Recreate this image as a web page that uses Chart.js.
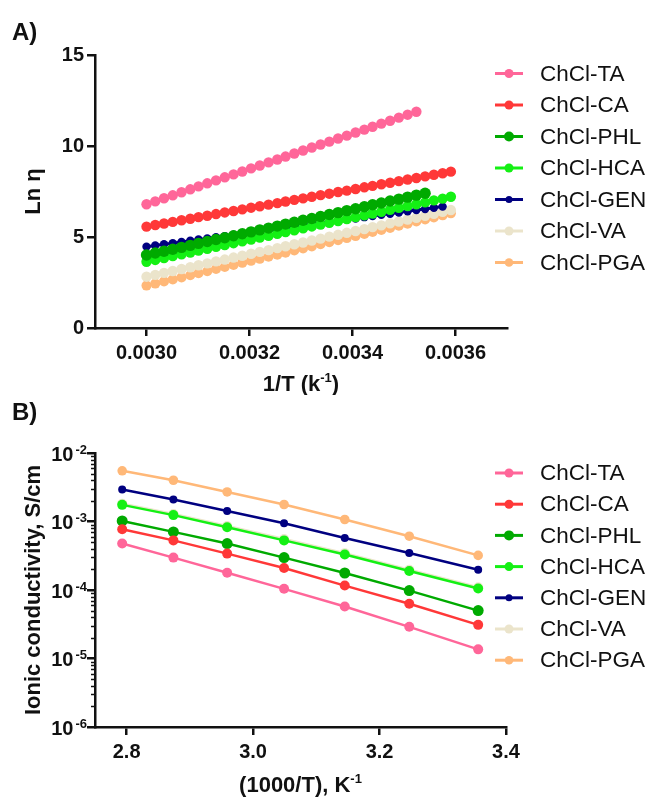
<!DOCTYPE html>
<html>
<head>
<meta charset="utf-8">
<script src="https://cdn.jsdelivr.net/npm/chart.js@4.4.1/dist/chart.umd.min.js"></script>
<style>
  body { margin: 0; background: #fff; width: 646px; height: 798px; overflow: hidden; position: relative; }
  canvas { position: absolute; left: 0; }
</style>
</head>
<body>
<canvas id="chartA" width="646" height="395" style="top:0"></canvas>
<canvas id="chartB" width="646" height="403" style="top:395px"></canvas>
<script>
// series names and colours (same for both panels)
const labels = ['ChCl-TA', 'ChCl-CA', 'ChCl-PHL', 'ChCl-HCA', 'ChCl-GEN', 'ChCl-VA', 'ChCl-PGA'];
const colors = ['#ff6699', '#ff3838', '#00aa00', '#14f014', '#000080', '#ebe4cb', '#ffb878'];
const radii = [4.5, 4.5, 5, 4.5, 3.5, 4.5, 4.3];

// Panel A: Ln(viscosity) vs 1/T
const invT = [0.003000, 0.003017, 0.003034, 0.003051, 0.003068, 0.003085, 0.003101, 0.003118, 0.003135,
  0.003152, 0.003169, 0.003186, 0.003203, 0.003220, 0.003237, 0.003254, 0.003270, 0.003287, 0.003304,
  0.003321, 0.003338, 0.003355, 0.003372, 0.003389, 0.003406, 0.003423, 0.003439, 0.003456, 0.003473,
  0.003490, 0.003507, 0.003524, 0.003541, 0.003558, 0.003575, 0.003591];
const lnTA = [6.80, 6.96, 7.13, 7.29, 7.46, 7.62, 7.78, 7.95, 8.11, 8.28, 8.44, 8.60, 8.77, 8.93, 9.10, 9.26,
  9.42, 9.59, 9.75, 9.92, 10.08, 10.24, 10.41, 10.57, 10.74, 10.90, 11.06, 11.23, 11.39, 11.56, 11.72, 11.88];
const lnCA = [5.57, 5.66, 5.74, 5.83, 5.92, 6.00, 6.09, 6.17, 6.26, 6.35, 6.43, 6.52, 6.61, 6.69, 6.78, 6.86,
  6.95, 7.04, 7.12, 7.21, 7.30, 7.38, 7.47, 7.55, 7.64, 7.73, 7.81, 7.90, 7.98, 8.07, 8.16, 8.24, 8.33, 8.42, 8.50, 8.59];
const lnPHL = [4.01, 4.12, 4.22, 4.33, 4.43, 4.54, 4.65, 4.75, 4.86, 4.96, 5.07, 5.18, 5.28, 5.39, 5.49, 5.60,
  5.71, 5.81, 5.92, 6.02, 6.13, 6.24, 6.34, 6.45, 6.55, 6.66, 6.77, 6.87, 6.98, 7.08, 7.19, 7.30, 7.40];
const lnHCA = [3.64, 3.74, 3.84, 3.95, 4.05, 4.15, 4.25, 4.35, 4.46, 4.56, 4.66, 4.76, 4.86, 4.97, 5.07, 5.17,
  5.27, 5.37, 5.48, 5.58, 5.68, 5.78, 5.88, 5.99, 6.09, 6.19, 6.29, 6.39, 6.50, 6.60, 6.70, 6.80, 6.90, 7.01, 7.11, 7.21];
const lnGEN = [4.47, 4.53, 4.60, 4.66, 4.73, 4.79, 4.86, 4.92, 4.99, 5.05, 5.12, 5.18, 5.25, 5.31, 5.38, 5.44,
  5.51, 5.57, 5.63, 5.70, 5.76, 5.83, 5.89, 5.96, 6.02, 6.09, 6.15, 6.22, 6.28, 6.35, 6.41, 6.48, 6.54, 6.61, 6.67];
const lnVA = [2.82, 2.92, 3.03, 3.13, 3.24, 3.34, 3.45, 3.55, 3.66, 3.76, 3.87, 3.97, 4.08, 4.18, 4.28, 4.39,
  4.49, 4.60, 4.70, 4.81, 4.91, 5.02, 5.12, 5.23, 5.33, 5.43, 5.54, 5.64, 5.75, 5.85, 5.96, 6.06, 6.17, 6.27, 6.38, 6.48];
const lnPGA = [2.33, 2.44, 2.56, 2.67, 2.78, 2.90, 3.01, 3.12, 3.24, 3.35, 3.46, 3.58, 3.69, 3.80, 3.92, 4.03,
  4.14, 4.26, 4.37, 4.48, 4.60, 4.71, 4.82, 4.94, 5.05, 5.16, 5.27, 5.39, 5.50, 5.62, 5.73, 5.85, 5.96, 6.07, 6.19, 6.30];
const xTicksA = [0.0030, 0.0032, 0.0034, 0.0036];
const yTicksA = [0, 5, 10, 15];

// Panel B: ionic conductivity (S/cm) vs 1000/T
const kT = [2.793, 2.874, 2.959, 3.049, 3.145, 3.247, 3.356];
const sTA = [4.77e-4, 2.97e-4, 1.79e-4, 1.04e-4, 5.75e-5, 2.9e-5, 1.36e-5];
const sCA = [7.7e-4, 5.3e-4, 3.4e-4, 2.1e-4, 1.16e-4, 6.3e-5, 3.1e-5];
const sPHL = [1.02e-3, 7.05e-4, 4.77e-4, 2.97e-4, 1.77e-4, 9.8e-5, 5.0e-5];
const sHCA = [1.75e-3, 1.24e-3, 8.25e-4, 5.3e-4, 3.29e-4, 1.89e-4, 1.05e-4];
const sGEN = [2.94e-3, 2.1e-3, 1.42e-3, 9.4e-4, 5.75e-4, 3.47e-4, 1.98e-4];
const sVA = [1.82e-3, 1.29e-3, 8.6e-4, 5.55e-4, 3.45e-4, 1.98e-4, 1.1e-4];
const sPGA = [5.5e-3, 4.0e-3, 2.7e-3, 1.77e-3, 1.07e-3, 6.1e-4, 3.2e-4];
const xTicksB = [2.8, 3.0, 3.2, 3.4];
const yTicksB = [1e-6, 1e-5, 1e-4, 1e-3, 1e-2];

Chart.defaults.font.family = '"Liberation Sans", Arial, sans-serif';
Chart.defaults.color = '#111';

const BOLD = 'bold 20px "Liberation Sans"';
const TITLE = 'bold 22px "Liberation Sans"';
const SUP = 'bold 13px "Liberation Sans"';

function series(xs, ys) {
  return ys.map((y, i) => ({ x: xs[i], y: y }));
}

// markers on the plot are a bit bigger than the legend dots
function makeDatasets(xs, list, lineW, grow) {
  return list.map((ys, i) => ({
    label: labels[i],
    data: series(xs, ys),
    borderColor: colors[i],
    backgroundColor: colors[i],
    borderWidth: lineW,
    pointRadius: radii[i] + grow,
    pointBorderWidth: 0,
    pointHoverRadius: radii[i] + grow,
    tension: 0
  }));
}

// text with superscript pieces: parts = [[text, font, dy, gap], ...]
function drawParts(ctx, x, y, parts, align) {
  let w = 0;
  parts.forEach(p => { ctx.font = p[1]; w += ctx.measureText(p[0]).width + (p[3] || 0); });
  let cx = align === 'center' ? x - w / 2 : (align === 'right' ? x - w : x);
  ctx.textAlign = 'left';
  ctx.textBaseline = 'alphabetic';
  parts.forEach(p => {
    ctx.font = p[1];
    cx += (p[3] || 0);
    ctx.fillText(p[0], cx, y + (p[2] || 0));
    cx += ctx.measureText(p[0]).width;
  });
}

// legend on the right: line + dot + name
const sideLegend = {
  id: 'sideLegend',
  afterDraw(chart, args, opts) {
    const ctx = chart.ctx;
    ctx.save();
    chart.data.datasets.forEach((ds, i) => {
      const y = opts.top + i * opts.gap;
      ctx.strokeStyle = ds.borderColor;
      ctx.lineWidth = 3;
      ctx.beginPath();
      ctx.moveTo(495, y);
      ctx.lineTo(523, y);
      ctx.stroke();
      ctx.fillStyle = ds.borderColor;
      ctx.beginPath();
      ctx.arc(509, y, radii[i], 0, Math.PI * 2);
      ctx.fill();
      ctx.fillStyle = '#111';
      ctx.font = '22.5px "Liberation Sans"';
      ctx.textAlign = 'left';
      ctx.textBaseline = 'middle';
      ctx.fillText(ds.label, 540, y + 1);
    });
    ctx.restore();
  }
};

// panel letter, axis titles (with superscripts)
const titles = {
  id: 'titles',
  afterDraw(chart, args, opts) {
    const ctx = chart.ctx;
    const area = chart.chartArea;
    ctx.save();
    ctx.fillStyle = '#111';
    ctx.font = 'bold 24px "Liberation Sans"';
    ctx.textAlign = 'left';
    ctx.textBaseline = 'alphabetic';
    ctx.fillText(opts.tag, 12, opts.tagY);
    drawParts(ctx, (area.left + area.right) / 2, opts.xTitleY, opts.xTitle, 'center');
    ctx.translate(40, (area.top + area.bottom) / 2);
    ctx.rotate(-Math.PI / 2);
    ctx.font = TITLE;
    ctx.textAlign = 'center';
    ctx.fillText(opts.yTitle, 0, 0);
    ctx.restore();
  }
};

// log axis: minor tick marks and 10^n labels
const logLabels = {
  id: 'logLabels',
  afterDraw(chart) {
    const ctx = chart.ctx;
    const s = chart.scales.y;
    ctx.save();
    ctx.strokeStyle = '#111';
    ctx.lineWidth = 1.5;
    ctx.fillStyle = '#111';
    for (let e = -6; e < -2; e++) {
      for (let m = 2; m < 10; m++) {
        const y = Math.round(s.getPixelForValue(m * Math.pow(10, e))) + 0.5;
        ctx.beginPath();
        ctx.moveTo(s.right - 4, y);
        ctx.lineTo(s.right, y);
        ctx.stroke();
      }
    }
    yTicksB.forEach(v => {
      const y = s.getPixelForValue(v);
      const e = Math.round(Math.log10(v));
      drawParts(ctx, 87, y + 7.5, [['10', BOLD, 0], [String(e), SUP, -7, 2]], 'right');
    });
    ctx.restore();
  }
};

function axisStyle() {
  return {
    grid: { drawOnChartArea: false, color: '#111', lineWidth: 2.5, tickLength: 8 },
    border: { color: '#111', width: 2.5 }
  };
}

new Chart(document.getElementById('chartA'), {
  type: 'line',
  data: { datasets: makeDatasets(invT, [lnTA, lnCA, lnPHL, lnHCA, lnGEN, lnVA, lnPGA], 3, 0.7) },
  options: {
    responsive: false,
    animation: false,
    layout: { padding: { left: 0, top: 55, right: 139, bottom: 0 } },
    plugins: {
      legend: { display: false },
      tooltip: { enabled: false },
      sideLegend: { top: 73.5, gap: 31.5 },
      titles: {
        tag: 'A)', tagY: 40, yTitle: 'Ln \u03b7', xTitleY: 391,
        xTitle: [['1/T (k', TITLE, 0], ['-1', SUP, -9], [')', TITLE, 0]]
      }
    },
    scales: {
      x: Object.assign(axisStyle(), {
        type: 'linear', min: 0.0029, max: 0.0037,
        afterBuildTicks: s => { s.ticks = xTicksA.map(v => ({ value: v })); },
        afterFit: s => { s.height = 67; },
        ticks: { font: { size: 20, weight: 'bold' }, padding: 5, maxRotation: 0, callback: v => v.toFixed(4) }
      }),
      y: Object.assign(axisStyle(), {
        type: 'linear', min: 0, max: 15,
        afterBuildTicks: s => { s.ticks = yTicksA.map(v => ({ value: v })); },
        afterFit: s => { s.width = 95; },
        ticks: { font: { size: 20, weight: 'bold' }, padding: 3, callback: v => String(v) }
      })
    }
  },
  plugins: [sideLegend, titles]
});

new Chart(document.getElementById('chartB'), {
  type: 'line',
  data: { datasets: makeDatasets(kT, [sTA, sCA, sPHL, sHCA, sGEN, sVA, sPGA], 2.5, 0.5) },
  options: {
    responsive: false,
    animation: false,
    layout: { padding: { left: 0, top: 58, right: 140, bottom: 0 } },
    plugins: {
      legend: { display: false },
      tooltip: { enabled: false },
      sideLegend: { top: 78, gap: 31.2 },
      titles: {
        tag: 'B)', tagY: 25, yTitle: 'Ionic conductivity, S/cm', xTitleY: 397,
        xTitle: [['(1000/T), K', TITLE, 0], ['-1', SUP, -9]]
      }
    },
    scales: {
      x: Object.assign(axisStyle(), {
        type: 'linear', min: 2.75, max: 3.4,
        afterBuildTicks: s => { s.ticks = xTicksB.map(v => ({ value: v })); },
        afterFit: s => { s.height = 71; },
        ticks: { font: { size: 20, weight: 'bold' }, padding: 5, maxRotation: 0, callback: v => v.toFixed(1) }
      }),
      y: Object.assign(axisStyle(), {
        type: 'logarithmic', min: 1e-6, max: 1e-2,
        afterBuildTicks: s => { s.ticks = yTicksB.map(v => ({ value: v })); },
        afterFit: s => { s.width = 95; },
        ticks: { display: false }
      })
    }
  },
  plugins: [sideLegend, titles, logLabels]
});
</script>
</body>
</html>
